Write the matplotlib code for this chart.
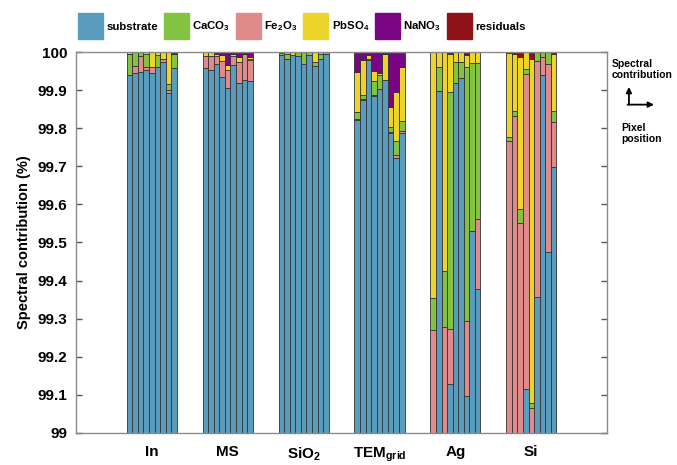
import numpy as np
import matplotlib
matplotlib.use("Agg")
import matplotlib.pyplot as plt
from matplotlib.patches import Patch, FancyArrowPatch

plt.rcParams['font.family'] = ['Liberation Sans', 'DejaVu Sans']
plt.rcParams['font.weight'] = 'bold'
plt.rcParams['axes.labelweight'] = 'bold'
plt.rcParams['mathtext.fontset'] = 'custom'
plt.rcParams['mathtext.rm'] = 'Liberation Sans:bold'
plt.rcParams['mathtext.bf'] = 'Liberation Sans:bold'
plt.rcParams['mathtext.it'] = 'Liberation Sans:bold'

# sample groups (9 pixel positions each)
groups = ["In", "MS", r"SiO$_2$", r"TEM$_{grid}$", "Ag", "Si"]

# spectral contributions (%) per group, per pixel
substrate = [
    [99.941, 99.944, 99.947, 99.953, 99.946, 99.961, 99.973, 99.893, 99.957],
    [99.958, 99.953, 99.969, 99.935, 99.905, 99.966, 99.920, 99.927, 99.923],
    [99.992, 99.983, 99.992, 99.990, 99.970, 99.992, 99.963, 99.981, 99.995],
    [99.821, 99.874, 99.979, 99.885, 99.902, 99.928, 99.787, 99.723, 99.787],
    [98.500, 99.898, 98.500, 99.128, 99.918, 99.933, 99.097, 99.530, 99.378],
    [98.500, 98.500, 98.500, 99.116, 98.500, 99.357, 99.940, 99.474, 99.698],
]
fe2o3 = [
    [0, 0.019, 0.043, 0.007, 0.014, 0, 0.010, 0.007, 0],
    [0.033, 0.038, 0.022, 0.042, 0.048, 0.024, 0.053, 0.067, 0.056],
    [0, 0, 0, 0, 0, 0, 0, 0, 0],
    [0.004, 0.002, 0, 0.002, 0, 0, 0.004, 0.006, 0.007],
    [0.770, 0, 0.777, 0.146, 0, 0, 0.197, 0, 0.183],
    [1.267, 1.332, 1.052, 0.827, 0.565, 0.620, 0.048, 0.496, 0.118],
]
caco3 = [
    [0.053, 0.037, 0.010, 0.035, 0, 0.031, 0, 0.015, 0.039],
    [0, 0, 0, 0, 0, 0, 0, 0, 0.003],
    [0.005, 0.013, 0, 0.010, 0.030, 0.008, 0.012, 0.014, 0.005],
    [0.018, 0.011, 0.002, 0.038, 0.038, 0, 0.011, 0.038, 0.026],
    [0.085, 0.063, 0.149, 0.621, 0.057, 0.042, 0.666, 0.442, 0.411],
    [0.009, 0.013, 0.035, 0.013, 0.013, 0.023, 0.012, 0.030, 0.029],
]
pbso4 = [
    [0.006, 0, 0, 0.005, 0.040, 0.008, 0.017, 0.085, 0],
    [0.009, 0.009, 0.004, 0.015, 0.013, 0.005, 0.013, 0, 0.004],
    [0.003, 0.004, 0.008, 0, 0, 0, 0.025, 0.005, 0],
    [0.105, 0.092, 0.011, 0.025, 0.004, 0.067, 0.054, 0.127, 0.140],
    [0.645, 0.039, 0.574, 0.100, 0.025, 0.025, 0.032, 0.028, 0.028],
    [0.222, 0.151, 0.401, 0.043, 0.903, 0, 0, 0, 0.151],
]
nano3 = [
    [0, 0, 0, 0, 0, 0, 0, 0, 0.004],
    [0, 0, 0.005, 0.008, 0.034, 0.005, 0.014, 0.006, 0.014],
    [0, 0, 0, 0, 0, 0, 0, 0, 0],
    [0.052, 0.021, 0.008, 0.050, 0.056, 0.005, 0.144, 0.106, 0.040],
    [0, 0, 0, 0.005, 0, 0, 0.008, 0, 0],
    [0, 0, 0, 0, 0, 0, 0, 0, 0],
]
residuals = [
    [0, 0, 0, 0, 0, 0, 0, 0, 0],
    [0, 0, 0, 0, 0, 0, 0, 0, 0],
    [0, 0, 0, 0, 0, 0, 0, 0, 0],
    [0, 0, 0, 0, 0, 0, 0, 0, 0],
    [0, 0, 0, 0, 0, 0, 0, 0, 0],
    [0.002, 0.004, 0.012, 0.001, 0.019, 0, 0, 0, 0.004],
]

colors = {
    "substrate": "#5a9cbd",
    "CaCO3": "#84c341",
    "Fe2O3": "#e08a8b",
    "PbSO4": "#ecd42b",
    "NaNO3": "#790484",
    "residuals": "#8e1217",
}

fig = plt.figure(figsize=(6.77, 4.65), dpi=100)
ax = fig.add_axes([0.112, 0.069, 0.785, 0.819])

n_pix = 9
group_w = 0.66
w = group_w / n_pix
offsets = (np.arange(n_pix) - (n_pix - 1) / 2) * w

# stacking order bottom -> top
stack = [
    (substrate, "substrate"),
    (fe2o3, "Fe2O3"),
    (caco3, "CaCO3"),
    (pbso4, "PbSO4"),
    (nano3, "NaNO3"),
    (residuals, "residuals"),
]

for g in range(len(groups)):
    x = g + 1 + offsets
    bottom = np.zeros(n_pix)
    for vals, name in stack:
        v = np.array(vals[g], dtype=float)
        ax.bar(x, v, bottom=bottom, width=w, color=colors[name],
               edgecolor="#333333", linewidth=0.6)
        bottom += v

ax.set_ylim(99, 100)
ax.set_xlim(0, 7)
ax.set_yticks(np.round(np.arange(99, 100.01, 0.1), 1))
ax.set_yticklabels(["99", "99.1", "99.2", "99.3", "99.4", "99.5",
                    "99.6", "99.7", "99.8", "99.9", "100"])
ax.set_xticks(np.arange(1, 7))
ax.set_xticklabels(groups)
ax.tick_params(axis="y", direction="in", length=4, width=1, color="#555555",
               labelsize=11, pad=6, right=True)
ax.tick_params(axis="x", length=0, labelsize=11, pad=9)
for s in ax.spines.values():
    s.set_color("#8a8a8a")
    s.set_linewidth(1)
ax.set_ylabel("Spectral contribution (%)", fontsize=10.5, labelpad=5)

# legend (in order given by original figure)
leg_names = ["substrate", "CaCO3", "Fe2O3", "PbSO4", "NaNO3", "residuals"]
leg_labels = ["substrate", r"CaCO$_3$", r"Fe$_2$O$_3$", r"PbSO$_4$",
              r"NaNO$_3$", "residuals"]
handles = [Patch(facecolor=colors[n], edgecolor=colors[n]) for n in leg_names]
fig.legend(handles, leg_labels, loc="upper left",
           bbox_to_anchor=(0.115, 0.972), ncol=6, frameon=False,
           fontsize=8.2, handlelength=2.2, handleheight=3.2,
           handletextpad=0.3, columnspacing=0.5, borderpad=0,
           borderaxespad=0)

# axis direction hint on the right
fig.text(0.904, 0.850, "Spectral\ncontribution", fontsize=7.5,
         ha="left", va="center", linespacing=1.1)
fig.add_artist(FancyArrowPatch((0.929, 0.775), (0.929, 0.813),
                               transform=fig.transFigure, arrowstyle="-|>",
                               mutation_scale=8, lw=1.3, color="black",
                               shrinkA=0, shrinkB=0))
fig.add_artist(FancyArrowPatch((0.927, 0.775), (0.966, 0.775),
                               transform=fig.transFigure, arrowstyle="-|>",
                               mutation_scale=8, lw=1.3, color="black",
                               shrinkA=0, shrinkB=0))
fig.text(0.918, 0.735, "Pixel\nposition", fontsize=7.5,
         ha="left", va="top", linespacing=1.1)

fig.savefig("out.png", dpi=100)
